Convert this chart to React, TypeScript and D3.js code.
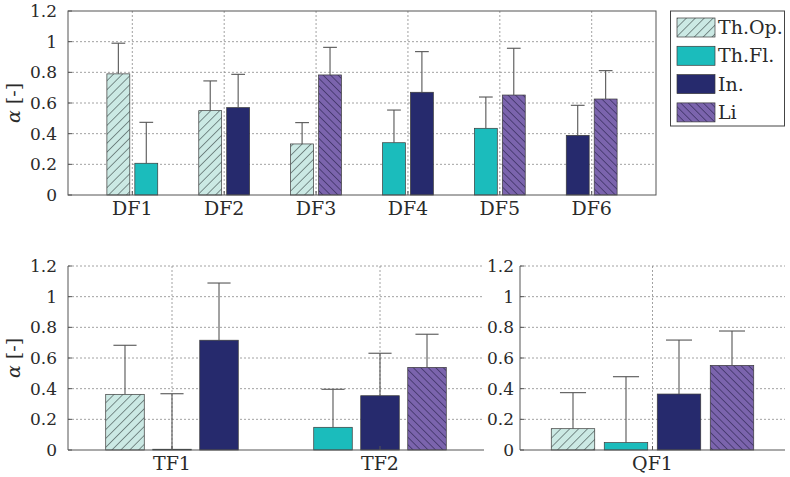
import * as d3 from "d3";

// series
const seriesNames = ["Th.Op.", "Th.Fl.", "In.", "Li"];
const seriesFill = ["#cbe9e4", "#1bbcbc", "#262a6d", "#7b64ad"];

// top panel: DF1..DF6
const dfCats = ["DF1", "DF2", "DF3", "DF4", "DF5", "DF6"];
const dfThOp = [0.79, 0.55, 0.333, null, null, null];
const dfThOpSd = [0.2, 0.194, 0.139, null, null, null];
const dfThFl = [0.207, null, null, 0.341, 0.435, null];
const dfThFlSd = [0.267, null, null, 0.213, 0.204, null];
const dfIn = [null, 0.57, null, 0.67, null, 0.389];
const dfInSd = [null, 0.217, null, 0.265, null, 0.196];
const dfLi = [null, null, 0.783, null, 0.652, 0.626];
const dfLiSd = [null, null, 0.18, null, 0.305, 0.185];

// bottom left: TF1, TF2
const tfCats = ["TF1", "TF2"];
const tfThOp = [0.363, null];
const tfThOpSd = [0.32, null];
const tfThFl = [0.005, 0.148];
const tfThFlSd = [0.362, 0.248];
const tfIn = [0.716, 0.354];
const tfInSd = [0.373, 0.277];
const tfLi = [null, 0.539];
const tfLiSd = [null, 0.216];

// bottom right: QF1
const qfCats = ["QF1"];
const qfThOp = [0.139];
const qfThOpSd = [0.235];
const qfThFl = [0.048];
const qfThFlSd = [0.43];
const qfIn = [0.365];
const qfInSd = [0.352];
const qfLi = [0.552];
const qfLiSd = [0.224];

const yTicks = [0, 0.2, 0.4, 0.6, 0.8, 1, 1.2];

const FONT = "'DejaVu Serif', serif";
const AXIS = "#555";
const GRID = "#8a8a8a";
const INK = "#2a2a2a";
const txt = { fontFamily: FONT };

type Panel = {
  cats: string[];
  means: (number | null)[][];
  sds: (number | null)[][];
  x0: number;
  x1: number;
  y0: number;
  y1: number;
  xDomain: [number, number];
  slot: number; // spacing between bars in category units
  boxed: boolean;
  ylabel: boolean;
};

const panels: Panel[] = [
  {
    cats: dfCats,
    means: [dfThOp, dfThFl, dfIn, dfLi],
    sds: [dfThOpSd, dfThFlSd, dfInSd, dfLiSd],
    x0: 68, x1: 656, y0: 11, y1: 195,
    xDomain: [0.3, 6.7], slot: 0.304, boxed: true, ylabel: true,
  },
  {
    cats: tfCats,
    means: [tfThOp, tfThFl, tfIn, tfLi],
    sds: [tfThOpSd, tfThFlSd, tfInSd, tfLiSd],
    x0: 68, x1: 484, y0: 266, y1: 450,
    xDomain: [0.5, 2.5], slot: 0.226, boxed: false, ylabel: true,
  },
  {
    cats: qfCats,
    means: [qfThOp, qfThFl, qfIn, qfLi],
    sds: [qfThOpSd, qfThFlSd, qfInSd, qfLiSd],
    x0: 520, x1: 785, y0: 266, y1: 450,
    xDomain: [0.5, 1.5], slot: 0.2, boxed: false, ylabel: false,
  },
];

const fillFor = (s: number) =>
  s === 0 ? "url(#hatch-op)" : s === 3 ? "url(#hatch-li)" : seriesFill[s];

function PanelView({ p, idx }: { p: Panel; idx: number }) {
  const x = d3.scaleLinear().domain(p.xDomain).range([p.x0, p.x1]);
  const y = d3.scaleLinear().domain([0, 1.2]).range([p.y1, p.y0]);
  const gridTicks = p.boxed ? yTicks.slice(1, -1) : yTicks.slice(1);

  const bars: { s: number; c: number; m: number; sd: number; cx: number; w: number }[] = [];
  p.cats.forEach((_, c) => {
    const present = p.means.map((arr, s) => (arr[c] != null ? s : -1)).filter((s) => s >= 0);
    const n = present.length;
    present.forEach((s, i) => {
      const off = (i - (n - 1) / 2) * p.slot;
      const cx = x(c + 1 + off);
      const w = x(c + 1 + 0.41 * p.slot) - x(c + 1 - 0.41 * p.slot);
      bars.push({ s, c, m: p.means[s][c] as number, sd: p.sds[s][c] as number, cx, w });
    });
  });

  return (
    <g>
      {/* grid */}
      {gridTicks.map((t) => (
        <line key={"h" + t} x1={p.x0} x2={p.x1} y1={y(t)} y2={y(t)}
          stroke={GRID} strokeWidth={0.8} strokeDasharray="2 2" />
      ))}
      {p.cats.map((_, c) => (
        <line key={"v" + c} x1={x(c + 1)} x2={x(c + 1)} y1={p.y0} y2={p.y1}
          stroke={GRID} strokeWidth={0.8} strokeDasharray="2 2" />
      ))}
      {/* bars */}
      {bars.map((b, i) => (
        <rect key={"b" + i} x={b.cx - b.w / 2} y={y(b.m)} width={b.w}
          height={y(0) - y(b.m)} fill={fillFor(b.s)} stroke="#3a3a3a" strokeWidth={0.7} />
      ))}
      {/* error bars (upper only) */}
      {bars.map((b, i) => {
        const top = y(b.m + b.sd);
        const cap = b.w * 0.3;
        return (
          <g key={"e" + i} stroke="#555" strokeWidth={1.1}>
            <line x1={b.cx} x2={b.cx} y1={y(b.m)} y2={top} />
            <line x1={b.cx - cap} x2={b.cx + cap} y1={top} y2={top} />
          </g>
        );
      })}
      {/* axes */}
      {p.boxed ? (
        <rect x={p.x0} y={p.y0} width={p.x1 - p.x0} height={p.y1 - p.y0}
          fill="none" stroke={AXIS} strokeWidth={1} />
      ) : (
        <path d={`M${p.x0},${p.y0}V${p.y1}H${p.x1}`} fill="none" stroke={AXIS} strokeWidth={1} />
      )}
      {yTicks.map((t) => (
        <g key={"t" + t}>
          <line x1={p.x0} x2={p.x0 + 4} y1={y(t)} y2={y(t)} stroke={AXIS} />
          <text x={p.x0 - (idx < 2 ? 11 : 6)} y={y(t) + 6} textAnchor="end"
            style={txt} fontSize={17} fill={INK}>{t}</text>
        </g>
      ))}
      {p.cats.map((c, i) => (
        <g key={"x" + c}>
          <line x1={x(i + 1)} x2={x(i + 1)} y1={p.y1} y2={p.y1 - 4} stroke={AXIS} />
          <text x={x(i + 1)} y={p.y1 + 20} textAnchor="middle"
            style={txt} fontSize={19} fill={INK}>{c}</text>
        </g>
      ))}
      {p.ylabel && (
        <text transform={`translate(20,${(p.y0 + p.y1) / 2}) rotate(-90)`} textAnchor="middle"
          style={txt} fontSize={19} fill={INK}>
          <tspan fontStyle="italic">α</tspan> [-]
        </text>
      )}
    </g>
  );
}

export default function App() {
  const legendRows = seriesNames.map((n, i) => ({ n, i }));
  return (
    <div style={{ position: "absolute", left: 0, top: 0 }}>
      <svg width={790} height={477} style={{ display: "block", background: "#fff" }}>
        <defs>
          <pattern id="hatch-op" patternUnits="userSpaceOnUse" width={6.3} height={6.3}
            patternTransform="rotate(45)">
            <rect width={6.3} height={6.3} fill={seriesFill[0]} />
            <line x1={0} y1={0} x2={0} y2={6.3} stroke="#33403f" strokeWidth={1.1} />
          </pattern>
          <pattern id="hatch-li" patternUnits="userSpaceOnUse" width={5.3} height={5.3}
            patternTransform="rotate(-45)">
            <rect width={5.3} height={5.3} fill={seriesFill[3]} />
            <line x1={0} y1={0} x2={0} y2={5.3} stroke="#251e48" strokeWidth={1.1} />
          </pattern>
        </defs>
        {panels.map((p, i) => (
          <PanelView key={i} p={p} idx={i} />
        ))}
        {/* legend */}
        <g>
          <rect x={670.5} y={11} width={114} height={115} fill="#fff" stroke="#444" strokeWidth={1} />
          {legendRows.map(({ n, i }) => (
            <g key={n}>
              <rect x={677} y={18 + i * 28.3} width={38} height={19} fill={fillFor(i)}
                stroke="#3a3a3a" strokeWidth={0.7} />
              <text x={718} y={34 + i * 28.3} style={txt} fontSize={19} fill={INK}>{n}</text>
            </g>
          ))}
        </g>
      </svg>
    </div>
  );
}
